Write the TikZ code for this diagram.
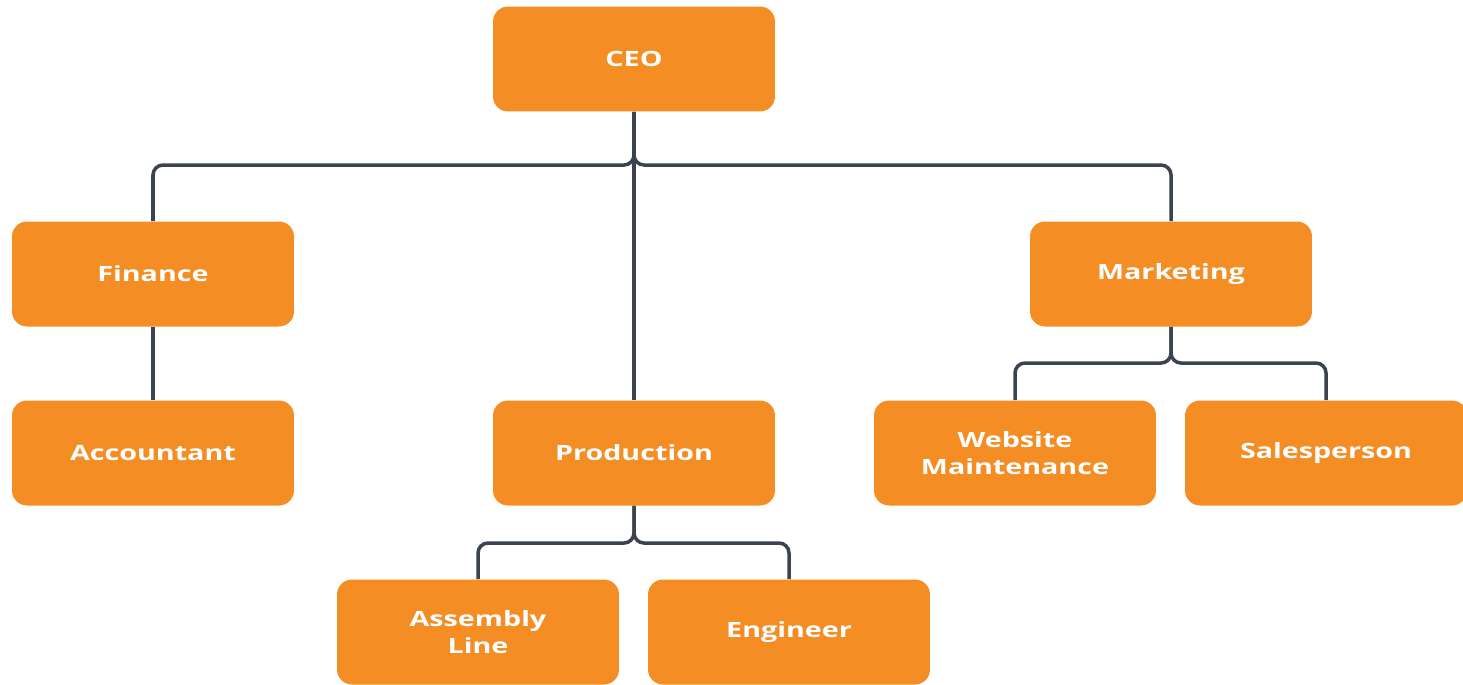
\documentclass[tikz,border=0pt]{standalone}
\usepackage{fontspec}
\setmainfont[FakeStretch=1.36]{Open Sans}
\definecolor{boxorange}{HTML}{F48D24}
\definecolor{linkgray}{HTML}{3B4350}
\begin{document}
\begin{tikzpicture}[x=0.02cm,y=-0.02cm,
    unit/.style={rectangle,rounded corners=0.3cm,fill=boxorange,text=white,
      font=\fontsize{12}{15}\selectfont\bfseries,align=center,
      minimum width=5.64cm,minimum height=2.1cm,inner sep=0pt},
    link/.style={draw=linkgray,line width=2pt,rounded corners=0.2cm}]
  \useasboundingbox (0,0) rectangle (1463,684);
  % top level
  \node[unit] (ceo) at (634,59) {CEO};
  % departments
  \node[unit] (fin) at (153,274) {Finance};
  \node[unit] (mkt) at (1171,274) {Marketing};
  \node[unit] (acc) at (153,453) {Accountant};
  \node[unit] (prod) at (634,453) {Production};
  \node[unit] (web) at (1015,453) {Website\\Maintenance};
  \node[unit] (sales) at (1326,453) {Salesperson};
  \node[unit] (asm) at (478,632) {Assembly\\Line};
  \node[unit] (eng) at (789,632) {Engineer};
  % bus points
  \coordinate (ceobus) at (634,165);
  \coordinate (mktbus) at (1171,363);
  \coordinate (prodbus) at (634,543);
  % connectors
  \draw[link] (ceo.south) -- (ceobus) -| (fin.north);
  \draw[link] (ceo.south) -- (ceobus) -| (mkt.north);
  \draw[link] (ceo.south) -- (prod.north);
  \draw[link] (fin.south) -- (acc.north);
  \draw[link] (mkt.south) -- (mktbus) -| (web.north);
  \draw[link] (mkt.south) -- (mktbus) -| (sales.north);
  \draw[link] (prod.south) -- (prodbus) -| (asm.north);
  \draw[link] (prod.south) -- (prodbus) -| (eng.north);
\end{tikzpicture}
\end{document}
